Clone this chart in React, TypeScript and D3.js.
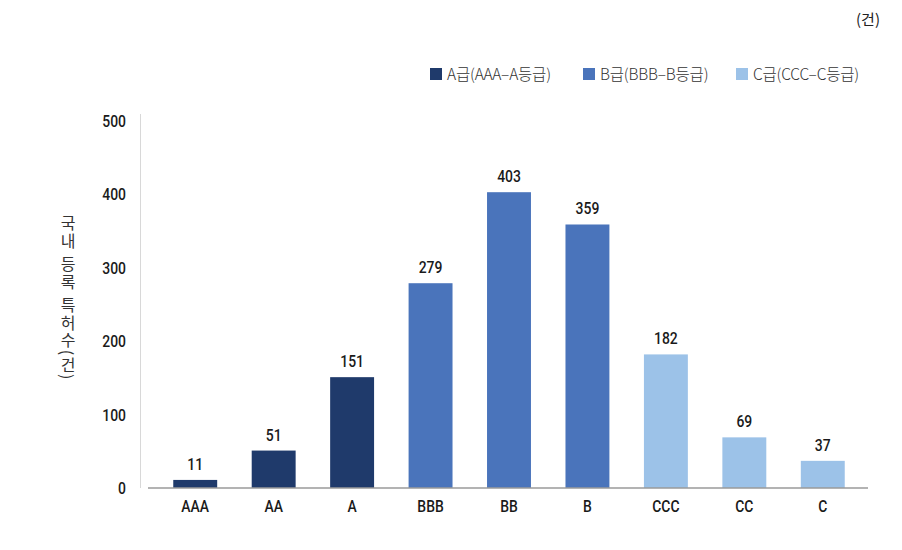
import React from "react";
import * as d3 from "d3";

const categories = ["AAA", "AA", "A", "BBB", "BB", "B", "CCC", "CC", "C"];
const values = [11, 51, 151, 279, 403, 359, 182, 69, 37];
const groups = ["A", "A", "A", "B", "B", "B", "C", "C", "C"];
const legendLabels = ["A급(AAA–A등급)", "B급(BBB–B등급)", "C급(CCC–C등급)"];
const legendKeys = ["A", "B", "C"];
const yTicks = [0, 100, 200, 300, 400, 500];
const yTitle = "국내 등록 특허수(건)";

const colors: Record<string, string> = { A: "#1f3a6b", B: "#4a74bb", C: "#9cc2e8" };

const numFont = "'Roboto', 'DejaVu Sans', sans-serif";
const krFont = "'Noto Sans CJK KR', 'Noto Sans', sans-serif";

function Num({ x, y, anchor, children }: { x: number; y: number; anchor: string; children: any }) {
  return (
    <g transform={`translate(${x},${y}) scale(0.82,1)`}>
      <text x={0} y={0} textAnchor={anchor as any} fontFamily={numFont} fontWeight={500} fontSize={17} fill="#1a1a1a">{children}</text>
    </g>
  );
}

export default function App() {
  const W = 902, H = 550;
  const x = d3.scaleBand<string>().domain(categories).range([156, 862]).paddingInner(0.44).paddingOuter(0.22);
  const y = d3.scaleLinear().domain([0, 500]).range([488, 121]);
  const legendX = [430, 583, 736];

  return (
    <svg width={W} height={H} style={{ position: "absolute", left: 0, top: 0, background: "#fff" }}>
      <text x={880} y={25} textAnchor="end" fontFamily={krFont} fontSize={15} fill="#222">(건)</text>
      {legendKeys.map((k, i) => (
        <g key={k}>
          <rect x={legendX[i]} y={68} width={12} height={12} fill={colors[k]} />
          <text x={legendX[i] + 17} y={80} fontFamily={krFont} fontSize={15.5} fontWeight={300} fill="#333" letterSpacing={-0.2}>{legendLabels[i]}</text>
        </g>
      ))}
      <line x1={140.5} x2={140.5} y1={114} y2={488} stroke="#d8d8d8" strokeWidth={1} />
      {yTicks.map(t => (
        <Num key={t} x={126} y={y(t) + 6} anchor="end">{t}</Num>
      ))}
      <text x={68} y={215} fontFamily={krFont} fontSize={16} fontWeight={400} fill="#333"
        letterSpacing={1.5} wordSpacing={1}
        style={{ writingMode: "vertical-rl" as any }}>{yTitle}</text>
      {categories.map((c, i) => (
        <g key={c}>
          <rect x={x(c)!} y={y(values[i])} width={x.bandwidth()} height={y(0) - y(values[i])} fill={colors[groups[i]]} />
          <Num x={x(c)! + x.bandwidth() / 2} y={y(values[i]) - 10} anchor="middle">{values[i]}</Num>
          <Num x={x(c)! + x.bandwidth() / 2} y={512} anchor="middle">{c}</Num>
        </g>
      ))}
      <line x1={148} x2={868} y1={488} y2={488} stroke="#9a9a9a" strokeWidth={1.5} />
    </svg>
  );
}
